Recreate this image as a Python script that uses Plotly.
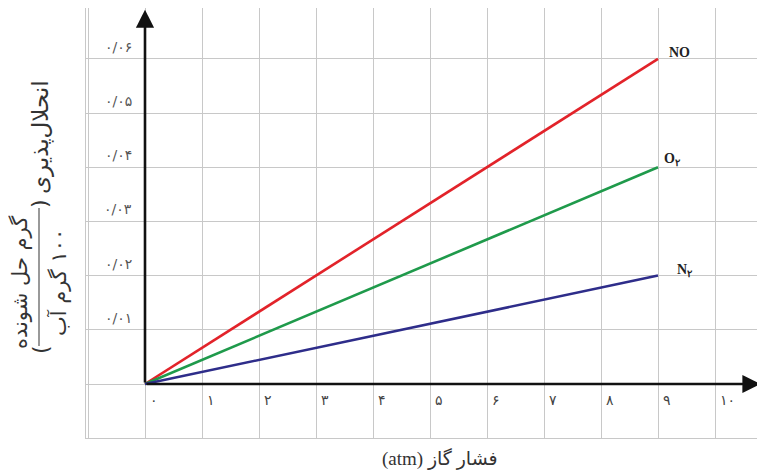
import plotly.graph_objects as go

# ---- data ----
pressure = [0, 9]
no_vals = [0, 0.06]
o2_vals = [0, 0.04]
n2_vals = [0, 0.02]
series_names = ["NO", "O<sub>۲</sub>", "N<sub>۲</sub>"]
series_colors = ["#e2232a", "#1f9a4b", "#2e2d8a"]

x_ticks = [0, 1, 2, 3, 4, 5, 6, 7, 8, 9, 10]
x_tick_labels = ["۰", "۱", "۲", "۳", "۴", "۵", "۶", "۷", "۸", "۹", "۱۰"]
y_ticks = [0.01, 0.02, 0.03, 0.04, 0.05, 0.06]
y_tick_labels = ["۰/۰۱", "۰/۰۲", "۰/۰۳", "۰/۰۴", "۰/۰۵", "۰/۰۶"]

x_title = "(atm) فشار گاز"
y_title_main = "انحلال\u200cپذیری"
y_title_num = "گرم حل شونده"
y_title_den = "\u200f۱۰۰ گرم آب"

# ---- layout geometry (page pixels; page body has an 8px margin) ----
OFF = 8
W, H = 765 - OFF, 476 - OFF
L, R, T, B = 86, 765, 8, 438        # plot area in page pixels
PW, PH = R - L, B - T
X0_PX, XUNIT = 145, 57.0            # page x of pressure 0, px per atm
Y0_PX, YUNIT = 384, 5420.0          # page y of solubility 0, px per unit


def px(x):
    return (x - L) / PW


def py(y):
    return (B - y) / PH


fig = go.Figure()
for vals, name, col in zip([no_vals, o2_vals, n2_vals], series_names, series_colors):
    fig.add_trace(go.Scatter(x=pressure, y=vals, mode="lines",
                             line=dict(color=col, width=2.6), name=name,
                             showlegend=False, hoverinfo="skip"))

ann = []
# series labels at line ends
label_shift = [(9, 6), (4, 8), (17, 5)]
for vals, name, (dx, dy) in zip([no_vals, o2_vals, n2_vals], series_names, label_shift):
    ann.append(dict(x=pressure[-1], y=vals[-1], xref="x", yref="y", text="<b>" + name + "</b>",
                    showarrow=False, xanchor="left", yanchor="middle", xshift=dx, yshift=dy,
                    font=dict(family="Liberation Serif", size=14, color="#222")))

# y tick labels
for v, t in zip(y_ticks, y_tick_labels):
    ann.append(dict(x=px(118), y=v, xref="paper", yref="y", text=t, showarrow=False,
                    xanchor="center", yanchor="middle", yshift=12,
                    font=dict(family="DejaVu Sans", size=14, color="#555")))

# x tick labels
for v, t in zip(x_ticks, x_tick_labels):
    ann.append(dict(x=v, y=0, xref="x", yref="y", text=t, showarrow=False,
                    xanchor="left", yanchor="middle", xshift=3, yshift=-16,
                    font=dict(family="DejaVu Sans", size=14, color="#444")))

# axis arrows
y_top = (Y0_PX - T) / YUNIT
ann.append(dict(x=0, y=y_top - 0.0003, ax=0, ay=0, xref="x", yref="y", axref="x", ayref="y",
                showarrow=True, arrowhead=2, arrowsize=1.4, arrowwidth=2.6, arrowcolor="#111",
                text=""))
ann.append(dict(x=10.8, y=0, ax=0, ay=0, xref="x", yref="y", axref="x", ayref="y",
                showarrow=True, arrowhead=2, arrowsize=1.4, arrowwidth=2.6, arrowcolor="#111",
                text=""))

# axis titles
ann.append(dict(x=px(440), y=py(459), xref="paper", yref="paper", text=x_title, showarrow=False,
                xanchor="center", yanchor="middle",
                font=dict(family="Liberation Serif, DejaVu Sans", size=19, color="#333")))
ann.append(dict(x=px(40), y=py(137), xref="paper", yref="paper", text=y_title_main, showarrow=False,
                textangle=-90, xanchor="center", yanchor="middle",
                font=dict(family="DejaVu Sans", size=23, color="#333")))
ann.append(dict(x=px(20), y=py(283), xref="paper", yref="paper", text=y_title_num, showarrow=False,
                textangle=-90, xanchor="center", yanchor="middle",
                font=dict(family="DejaVu Sans", size=21, color="#333")))
ann.append(dict(x=px(58), y=py(283), xref="paper", yref="paper", text=y_title_den, showarrow=False,
                textangle=-90, xanchor="center", yanchor="middle",
                font=dict(family="DejaVu Sans", size=21, color="#333")))
ann.append(dict(x=px(40), y=py(204), xref="paper", yref="paper", text=")", showarrow=False,
                textangle=-90, xanchor="center", yanchor="middle",
                font=dict(family="DejaVu Sans", size=22, color="#333")))
ann.append(dict(x=px(40), y=py(350), xref="paper", yref="paper", text="(", showarrow=False,
                textangle=-90, xanchor="center", yanchor="middle",
                font=dict(family="DejaVu Sans", size=22, color="#333")))

shapes = [dict(type="line", xref="paper", yref="paper", x0=px(39), x1=px(39), y0=py(208), y1=py(346),
               line=dict(color="#555", width=1.2))]

fig.update_layout(
    width=W, height=H,
    margin=dict(l=L - OFF, r=0, t=T - OFF, b=(H + OFF) - B, pad=0),
    paper_bgcolor="white", plot_bgcolor="white",
    xaxis=dict(range=[(L - X0_PX) / XUNIT, (R - X0_PX) / XUNIT], tick0=0, dtick=1,
               showgrid=True, gridcolor="#c8c8c8", gridwidth=1.2,
               showticklabels=False, ticks="", zeroline=False,
               showline=True, mirror=True, linecolor="#c8c8c8", linewidth=1.2),
    yaxis=dict(range=[(Y0_PX - B) / YUNIT, y_top], tick0=0, dtick=0.01,
               showgrid=True, gridcolor="#c8c8c8", gridwidth=1.2,
               showticklabels=False, ticks="", zeroline=False,
               showline=True, mirror=True, linecolor="#c8c8c8", linewidth=1.2),
    annotations=ann, shapes=shapes,
)

fig.write_html("out.html")
